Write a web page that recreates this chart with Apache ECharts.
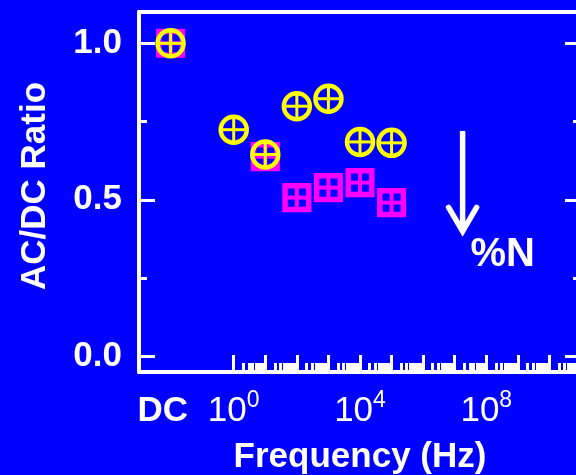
<!DOCTYPE html>
<html>
<head>
<meta charset="utf-8">
<script src="https://cdn.jsdelivr.net/npm/echarts@6/dist/echarts.min.js"></script>
<style>html,body{margin:0;padding:0;background:#0000FF;}#c{width:576px;height:475px;}</style>
</head>
<body>
<div id="c"></div>
<script>
// ---- data ----
const frequencies = ['DC', 1, 10, 100, 1000, 10000, 100000];   // Hz ('DC' = steady state)
const yellowRatio = [1.00, 0.724, 0.645, 0.799, 0.823, 0.685, 0.682];
const magentaRatio = [1.00, null, 0.638, 0.507, 0.539, 0.555, 0.491];
const dcLog = -2;               // log10 position where DC is drawn
const dcLabelLog = -2.25;       // log10 position of the "DC" tick label
const xTickLabels = [dcLabelLog, 0, 4, 8];
const yTickLabels = [0, 0.5, 1.0];
const yMinorTicks = [0.25, 0.75];
const arrowX = [7.25];          // log10(Hz)
const arrowFrom = [0.72];
const arrowTo = [0.393];
const annotText = ['%N'];
const annotX = [8.52];
const annotY = [0.325];

const FONT = '"Liberation Sans", Arial, Helvetica, sans-serif';
const WHITE = '#ffffff';

function xPos(f) { return f === 'DC' ? dcLog : Math.log10(f); }
const yellowData = frequencies.map((f, i) => [xPos(f), yellowRatio[i]]).filter(d => d[1] != null);
const magentaData = frequencies.map((f, i) => [xPos(f), magentaRatio[i]]).filter(d => d[1] != null);

const majorX = []; for (let n = 0; n <= 11; n++) majorX.push(n);
const minorX = []; for (let n = 0; n <= 10; n++) for (let k = 2; k <= 9; k++) minorX.push(n + Math.log10(k));

const chart = echarts.init(document.getElementById('c'), null, {renderer: 'canvas'});

const baseX = {type: 'value', min: -3, max: 11, splitLine: {show: false}};
const baseY = {type: 'value', min: -0.05, max: 1.1, splitLine: {show: false}};

chart.setOption({
  backgroundColor: '#0000FF',
  animation: false,
  grid: {left: 139, right: -5, top: 12, height: 360, containLabel: false, outerBoundsMode: 'none'},
  xAxis: [
    Object.assign({}, baseX, {
      position: 'bottom',
      axisLine: {onZero: false, lineStyle: {color: WHITE, width: 4}},
      axisTick: {inside: true, length: 17, customValues: majorX, lineStyle: {color: WHITE, width: 3}},
      axisLabel: {
        customValues: xTickLabels, margin: 17, color: WHITE,
        formatter: function (v) {
          if (Math.abs(v - dcLabelLog) < 1e-6) return '{dc|DC}';
          return '{b|10}{s|' + Math.round(v) + '}';
        },
        rich: {
          dc: {fontFamily: FONT, fontSize: 35, fontWeight: 'bold', color: WHITE, lineHeight: 40, padding: [7, 0, 0, 0], verticalAlign: 'bottom'},
          b: {fontFamily: FONT, fontSize: 35, color: WHITE, lineHeight: 40, padding: [7, 0, 0, 0], verticalAlign: 'bottom'},
          s: {fontFamily: FONT, fontSize: 23, color: WHITE, lineHeight: 23, verticalAlign: 'top'}
        }
      },
      name: 'Frequency (Hz)', nameLocation: 'middle', nameGap: 68,
      nameTextStyle: {fontFamily: FONT, fontSize: 35, fontWeight: 'bold', color: WHITE}
    }),
    Object.assign({}, baseX, {
      position: 'bottom', offset: 0,
      axisLine: {show: false, onZero: false},
      axisTick: {inside: true, length: 9, customValues: minorX, lineStyle: {color: WHITE, width: 3}},
      axisLabel: {show: false}
    }),
    Object.assign({}, baseX, {
      position: 'top',
      axisLine: {onZero: false, lineStyle: {color: WHITE, width: 4}},
      axisTick: {show: false}, axisLabel: {show: false}
    })
  ],
  yAxis: [
    Object.assign({}, baseY, {
      position: 'left',
      axisLine: {onZero: false, lineStyle: {color: WHITE, width: 4}},
      axisTick: {inside: true, length: 16, customValues: yTickLabels, lineStyle: {color: WHITE, width: 3}},
      axisLabel: {customValues: yTickLabels, margin: 17, color: WHITE, fontFamily: FONT, fontSize: 35, fontWeight: 'bold',
        formatter: v => v.toFixed(1)},
      name: 'AC/DC Ratio', nameLocation: 'middle', nameRotate: 90, nameGap: 86,
      nameTextStyle: {fontFamily: FONT, fontSize: 35, fontWeight: 'bold', color: WHITE, padding: [0, 0, 0, 12]}
    }),
    Object.assign({}, baseY, {
      position: 'left', offset: 0,
      axisLine: {show: false, onZero: false},
      axisTick: {inside: true, length: 8, customValues: yMinorTicks, lineStyle: {color: WHITE, width: 3}},
      axisLabel: {show: false}
    }),
    Object.assign({}, baseY, {
      position: 'right',
      axisLine: {onZero: false, lineStyle: {color: WHITE, width: 4}},
      axisTick: {inside: true, length: 16, customValues: yTickLabels, lineStyle: {color: WHITE, width: 3}},
      axisLabel: {show: false}
    }),
    Object.assign({}, baseY, {
      position: 'right', offset: 0,
      axisLine: {show: false, onZero: false},
      axisTick: {inside: true, length: 8, customValues: yMinorTicks, lineStyle: {color: WHITE, width: 3}},
      axisLabel: {show: false}
    })
  ],
  series: [
    {
      type: 'custom', name: 'magenta', xAxisIndex: 0, yAxisIndex: 0, data: magentaData, z: 3,
      renderItem: function (params, api) {
        const p = api.coord([api.value(0), api.value(1)]);
        const h = 11.8, c = '#FF00FF';
        return {type: 'group', children: [
          {type: 'rect', shape: {x: p[0] - h, y: p[1] - h, width: 2 * h, height: 2 * h}, style: {fill: 'none', stroke: c, lineWidth: 5.5}},
          {type: 'line', shape: {x1: p[0] - h, y1: p[1], x2: p[0] + h, y2: p[1]}, style: {stroke: c, lineWidth: 4}},
          {type: 'line', shape: {x1: p[0], y1: p[1] - h, x2: p[0], y2: p[1] + h}, style: {stroke: c, lineWidth: 4}}
        ]};
      }
    },
    {
      type: 'custom', name: 'yellow', xAxisIndex: 0, yAxisIndex: 0, data: yellowData, z: 4,
      renderItem: function (params, api) {
        const p = api.coord([api.value(0), api.value(1)]);
        const r = 13, c = '#FFFF00';
        return {type: 'group', children: [
          {type: 'circle', shape: {cx: p[0], cy: p[1], r: r}, style: {fill: 'none', stroke: c, lineWidth: 4.5}},
          {type: 'line', shape: {x1: p[0] - r, y1: p[1], x2: p[0] + r, y2: p[1]}, style: {stroke: c, lineWidth: 3}},
          {type: 'line', shape: {x1: p[0], y1: p[1] - r, x2: p[0], y2: p[1] + r}, style: {stroke: c, lineWidth: 3}}
        ]};
      }
    },
    {
      type: 'custom', name: 'arrow', xAxisIndex: 0, yAxisIndex: 0, z: 5,
      data: arrowX.map((x, i) => [x, arrowFrom[i], arrowTo[i]]),
      renderItem: function (params, api) {
        const a = api.coord([api.value(0), api.value(1)]);
        const b = api.coord([api.value(0), api.value(2)]);
        return {type: 'group', children: [
          {type: 'line', shape: {x1: a[0], y1: a[1], x2: b[0], y2: b[1] - 3}, style: {stroke: WHITE, lineWidth: 5.5}},
          {type: 'polyline', shape: {points: [[b[0] - 14, b[1] - 26], [b[0], b[1] - 2], [b[0] + 14, b[1] - 26]]},
            style: {stroke: WHITE, fill: 'none', lineWidth: 5.5, lineJoin: 'miter', lineCap: 'round'}}
        ]};
      }
    },
    {
      type: 'custom', name: 'annot', xAxisIndex: 0, yAxisIndex: 0, z: 5,
      data: annotX.map((x, i) => [x, annotY[i], i]),
      renderItem: function (params, api) {
        const p = api.coord([api.value(0), api.value(1)]);
        return {type: 'text', x: p[0], y: p[1], style: {text: annotText[api.value(2)], fill: WHITE,
          font: 'bold 40px ' + FONT, align: 'center', verticalAlign: 'middle'}};
      }
    }
  ]
});
</script>
</body>
</html>
